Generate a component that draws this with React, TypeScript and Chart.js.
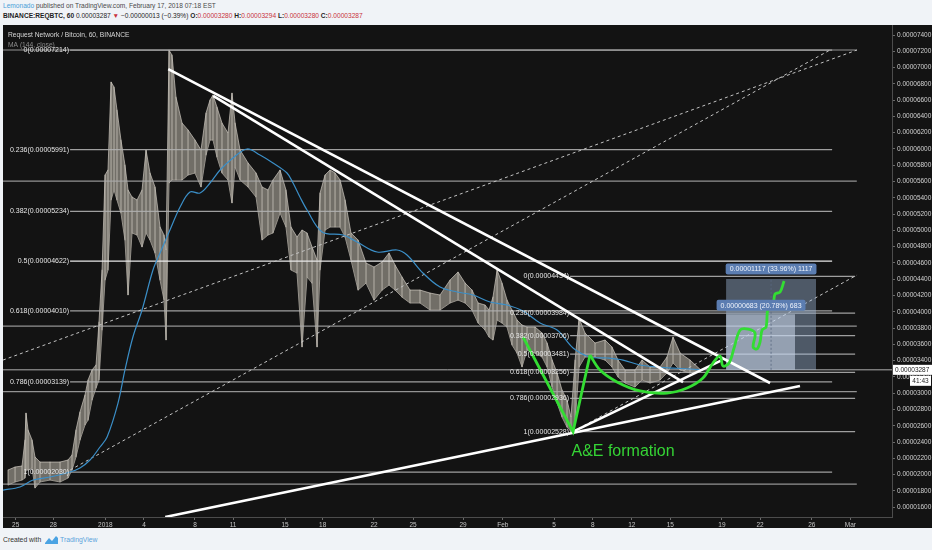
import React, { useEffect, useRef } from "react";
import { Chart, registerables } from "chart.js";

Chart.register(...registerables);

// x: days counted from 25 Dec 2017 along the bar axis, y: price in satoshi (1e-8 BTC)
const xTickDays = [0, 2.93, 6.97, 9.98, 13.95, 16.91, 20.96, 23.89, 27.88, 30.92, 34.81, 37.9, 41.89, 44.9, 47.94, 50.94, 54.96, 57.92, 61.95, 64.95];
const xTickLabels = ["25", "28", "2018", "4", "8", "11", "15", "18", "22", "25", "29", "Feb", "5", "8", "12", "15", "19", "22", "26", "Mar"];
const yTickValues = [1600, 1800, 2000, 2200, 2400, 2600, 2800, 3000, 3200, 3400, 3600, 3800, 4000, 4200, 4400, 4600, 4800, 5000, 5200, 5400, 5600, 5800, 6000, 6200, 6400, 6600, 6800, 7000, 7200, 7400];
const xRange = [-0.99, 68.19];
const yRange = [1479, 7523];

const priceDays = [
  -0.6, -0.05, 0.49, 0.72, 0.8, 0.96, 1.27, 1.5, 1.89, 2.67,
  3.45, 4.07, 4.38, 4.69, 5.0, 5.39, 5.63, 5.94, 6.25, 6.48,
  6.72, 6.95, 7.18, 7.42, 7.65, 7.88, 8.19, 8.5, 8.74, 9.05,
  9.44, 9.83, 10.14, 10.45, 10.84, 11.23, 11.54, 11.7, 11.93, 12.16,
  12.47, 12.94, 13.41, 13.95, 14.42, 14.81, 15.12, 15.35, 15.66, 16.05,
  16.52, 16.83, 17.07, 17.46, 18.08, 18.7, 19.17, 19.63, 20.02, 20.57,
  21.03, 21.42, 21.89, 22.28, 22.67, 23.06, 23.45, 23.68, 24.07, 24.46,
  24.85, 25.24, 25.63, 26.09, 26.64, 27.26, 27.88, 28.51, 29.05, 29.52,
  30.06, 30.68, 31.46, 32.24, 33.02, 33.8, 34.42, 34.97, 35.51, 35.98,
  36.52, 36.83, 37.14, 37.46, 37.84, 38.23, 38.62, 39.01, 39.4, 39.79,
  40.41, 40.96, 41.35, 41.74, 42.13, 42.51, 42.9, 43.21, 43.53, 43.84,
  44.3, 45.08, 45.86, 46.4, 46.87, 47.42, 48.19, 48.74, 49.36, 50.14,
  50.68, 51.15, 51.7, 52.47, 53.25,
];
const priceHigh = [
  2056, 2093, 2105, 2425, 2756, 2547, 2425, 2216, 2154, 2154,
  2154, 2179, 2240, 2547, 2769, 2977, 3162, 3285, 3346, 3874,
  4513, 5680, 5742, 6823, 6761, 6479, 6110, 5803, 5496, 5410,
  5373, 5496, 5987, 5705, 5533, 5041, 4943, 4759, 7214, 7154,
  6638, 6319, 6233, 6110, 5987, 6442, 6602, 6663, 6515, 6319,
  6196, 6687, 6319, 5987, 5828, 5705, 5533, 5496, 5619, 5742,
  5496, 5041, 4918, 5004, 4968, 4796, 4636, 5459, 5680, 5742,
  5705, 5619, 5373, 4968, 4882, 4599, 4550, 4611, 4722, 4574,
  4427, 4267, 4267, 4230, 4206, 4390, 4488, 4353, 4267, 4108,
  4083, 4022, 4181, 4513, 4353, 4145, 4022, 3899, 3837, 3813,
  3813, 3739, 3616, 3407, 3248, 3039, 2916, 2707, 3407, 3923,
  3739, 3616, 3653, 3567, 3407, 3285, 3285, 3407, 3322, 3322,
  3444, 3690, 3493, 3407, 3294,
];
const priceLow = [
  1872, 1909, 1933, 1958, 2056, 2056, 2081, 1835, 1909, 1933,
  1909, 1958, 2056, 2216, 2425, 2609, 2670, 2916, 3064, 3162,
  3776, 4390, 4513, 5373, 5496, 5373, 5213, 4882, 4206, 4968,
  4943, 4796, 4968, 4882, 4722, 4390, 4145, 3653, 5582, 5619,
  5619, 5619, 5680, 5705, 5533, 5926, 6110, 6110, 5901, 5705,
  5619, 5336, 5778, 5619, 5533, 5410, 4882, 4943, 4968, 5213,
  5041, 4513, 4476, 3567, 4427, 4353, 3567, 4513, 5004, 5041,
  5041, 5041, 4918, 4636, 4267, 4353, 4144, 4267, 4329, 4267,
  4181, 4108, 4108, 4022, 4022, 4108, 4144, 4108, 4022, 3862,
  3776, 3690, 3653, 3899, 3862, 3813, 3592, 3493, 3322, 3530,
  3493, 3444, 3322, 3076, 2879, 2707, 2584, 2528, 2634, 3322,
  3444, 3444, 3407, 3322, 3199, 3125, 3076, 3162, 3125, 3162,
  3248, 3371, 3285, 3248, 3280,
];

const maDays = [
  -0.99, 0.33, 1.35, 2.67, 4.23, 5.0, 5.78, 6.56, 7.11, 7.96, 8.5, 9.12, 9.83, 10.68, 11.23,
  12.0, 12.79, 13.56, 14.34, 15.12, 15.9, 16.91, 18.0, 19.01, 20.02, 21.11, 21.58, 22.12, 22.67, 23.84,
  25.47, 26.56, 28.13, 29.67, 30.45, 31.69, 33.02, 34.35, 35.58, 36.91, 38.23, 39.48, 40.8, 42.13, 43.37,
  44.69, 46.02, 47.26, 48.58, 49.91, 51.15, 52.47, 53.48,
];
const maValues = [
  1810, 1847, 1933, 1970, 2032, 2081, 2179, 2339, 2462, 2879, 3285, 3690, 4022, 4513, 4722,
  5004, 5287, 5471, 5459, 5582, 5742, 5889, 6000, 5926, 5828, 5705, 5582, 5410, 5250, 4980,
  4943, 4857, 4734, 4759, 4697, 4476, 4304, 4243, 4206, 4120, 4083, 4009, 3862, 3776, 3555,
  3444, 3432, 3407, 3346, 3322, 3309, 3297, 3285,
];

const fib1Levels = ["0", "0.236", "0.382", "0.5", "0.618", "0.786", "1"];
const fib1Prices = [7214, 5991, 5234, 4622, 4010, 3139, 2030];
const fib1Span = [4.23, 63.53];
const fib2Levels = ["0", "0.236", "0.382", "0.5", "0.618", "0.786", "1"];
const fib2Prices = [4434, 3984, 3706, 3481, 3256, 2936, 2528];
const fib2Span = [43.14, 65.32];
const plainLevels = [7216, 5606, 3825, 3020, 1884];
const plainSpan = [-0.99, 65.45];
const lastPrice = 3287;

const trendUpper = [[11.87, 6982], [58.7, 3125]];
const trendInner = [[15.37, 6651], [51.93, 3137]];
const supportLong = [[11.63, 1479], [61.03, 3088]];
const supportRising = [[43.37, 2528], [54.96, 3407]];
const dashedA = [[-0.99, 3407], [65.47, 7216]];
const dashedB = [[4.23, 2056], [63.37, 7216]];
const dashedC = [[43.37, 2528], [65.47, 4452]];

const measureDays = [55.28, 60.65, 62.28];
const measureTops = [4404, 3970];
const measureTexts = ["0.00001117 (33.96%) 1117", "0.00000683 (20.78%) 683"];

const greenVDays = [39.48, 43.37, 44.69];
const greenVValues = [3690, 2528, 3469];
const greenCurveDays = [44.69, 45.47, 46.79, 48.58, 50.68, 52.24, 53.48, 54.26, 54.81, 55.04, 55.51, 55.9, 56.37, 56.99, 57.53, 57.38, 57.69, 57.92, 58.08, 58.39, 58.54, 58.93, 59.09, 59.48, 59.79];
const greenCurveValues = [3469, 3284, 3138, 3027, 3002, 3064, 3187, 3371, 3457, 3334, 3371, 3555, 3776, 3788, 3739, 3567, 3543, 3628, 3776, 3813, 4034, 4083, 4218, 4243, 4378];

const FONT = '"Liberation Sans", Arial, sans-serif';
const fmt = (v: number) => (v / 1e8).toFixed(8);

const pts = (list: number[][]) => list.map((p) => ({ x: p[0], y: p[1] }));

function seg(list: number[][], color: string, width: number, order: number, dash: number[] = []) {
  return {
    type: "line",
    data: pts(list),
    borderColor: color,
    borderWidth: width,
    borderDash: dash,
    pointRadius: 0,
    fill: false,
    tension: 0,
    order,
  };
}

const overlay = {
  id: "overlay",
  afterDatasetsDraw(chart: any) {
    const { ctx, chartArea: a, scales } = chart;
    const px = (d: number) => scales.x.getPixelForValue(d);
    const py = (v: number) => scales.y.getPixelForValue(v);
    ctx.save();
    ctx.beginPath();
    ctx.rect(a.left, a.top, a.right - a.left, a.bottom - a.top);
    ctx.clip();
    ctx.textBaseline = "middle";
    ctx.textAlign = "left";
    ctx.font = `6.7px ${FONT}`;
    ctx.fillStyle = "#d6d6d6";
    ctx.fillText("Request Network / Bitcoin, 60, BINANCE", a.left + 5, a.top + 10);
    ctx.fillStyle = "#8c8c8c";
    ctx.fillText("MA (144, close)", a.left + 5, a.top + 20);

    ctx.font = `7px ${FONT}`;
    ctx.textAlign = "right";
    ctx.fillStyle = "#e6e6e6";
    fib1Levels.forEach((lv, i) => {
      ctx.fillText(`${lv}(${fmt(fib1Prices[i])})`, px(fib1Span[0]) - 1, py(fib1Prices[i]));
    });
    fib2Levels.forEach((lv, i) => {
      ctx.fillText(`${lv}(${fmt(fib2Prices[i])})`, px(fib2Span[0]) - 1, py(fib2Prices[i]));
    });

    ctx.textAlign = "center";
    const boxes = [
      { t: measureTexts[0], cx: px(58.78), cy: py(measureTops[0]) - 10 },
      { t: measureTexts[1], cx: px(58.0), cy: py(measureTops[1]) - 9 },
    ];
    boxes.forEach((b) => {
      const w = ctx.measureText(b.t).width + 8;
      ctx.fillStyle = "#5b7db1";
      ctx.beginPath();
      if (ctx.roundRect) ctx.roundRect(b.cx - w / 2, b.cy - 5.5, w, 11, 2);
      else ctx.rect(b.cx - w / 2, b.cy - 5.5, w, 11);
      ctx.fill();
      ctx.fillStyle = "#eef3fb";
      ctx.fillText(b.t, b.cx, b.cy + 0.5);
    });

    ctx.font = `16px ${FONT}`;
    ctx.fillStyle = "#35d435";
    ctx.fillText("A&E formation", px(47.26), py(2277));
    ctx.restore();
  },
  afterDraw(chart: any) {
    const { ctx, chartArea: a, scales, width } = chart;
    const y = scales.y.getPixelForValue(lastPrice);
    ctx.save();
    ctx.fillStyle = "#ffffff";
    ctx.fillRect(a.right + 1, y - 5, width - a.right - 1, 10);
    ctx.fillStyle = "#1c1c1c";
    ctx.font = `6.5px ${FONT}`;
    ctx.textBaseline = "middle";
    ctx.textAlign = "left";
    ctx.fillText(fmt(lastPrice), a.right + 3, y);
    ctx.fillStyle = "#ffffff";
    ctx.fillRect(width - 22, y + 6, 21, 10);
    ctx.fillStyle = "#1c1c1c";
    ctx.textAlign = "center";
    ctx.fillText("41:43", width - 11.5, y + 11);
    ctx.restore();
  },
};

export default function App() {
  const ref = useRef<HTMLCanvasElement>(null);

  useEffect(() => {
    if (!ref.current) return;
    const datasets: any[] = [];

    datasets.push({
      type: "line",
      data: priceDays.map((d, i) => ({ x: d, y: priceHigh[i] })),
      borderColor: "rgba(210,205,196,0.85)",
      borderWidth: 0.8,
      backgroundColor: "rgba(150,145,136,0.72)",
      fill: "+1",
      pointRadius: 0,
      tension: 0,
      order: 30,
    });
    datasets.push({
      type: "line",
      data: priceDays.map((d, i) => ({ x: d, y: priceLow[i] })),
      borderColor: "rgba(210,205,196,0.85)",
      borderWidth: 0.8,
      fill: false,
      pointRadius: 0,
      tension: 0,
      order: 30,
    });
    datasets.push({
      type: "bar",
      data: priceDays.map((d, i) => ({ x: d, y: [priceLow[i], priceHigh[i]] })),
      backgroundColor: "rgba(220,215,205,0.4)",
      borderWidth: 0,
      barThickness: 1,
      grouped: false,
      order: 29,
    });
    datasets.push({
      type: "line",
      data: maDays.map((d, i) => ({ x: d, y: maValues[i] })),
      borderColor: "#3b8fc8",
      borderWidth: 1.2,
      fill: false,
      pointRadius: 0,
      tension: 0.35,
      order: 25,
    });

    plainLevels.forEach((v) => datasets.push(seg([[plainSpan[0], v], [plainSpan[1], v]], "rgba(170,170,170,0.85)", 1.2, 28)));
    fib1Prices.forEach((v, i) =>
      datasets.push(seg([[fib1Span[0], v], [fib1Span[1], v]], fib1Levels[i] === "0.5" ? "#e8e8e8" : "rgba(175,175,175,0.9)", 1.2, 28))
    );
    fib2Prices.forEach((v) => datasets.push(seg([[fib2Span[0], v], [fib2Span[1], v]], "rgba(175,175,175,0.9)", 1.2, 28)));
    datasets.push(seg([[xRange[0], lastPrice], [xRange[1], lastPrice]], "rgba(190,190,190,0.9)", 1, 27));

    datasets.push(seg(dashedA, "#c4c4c4", 1, 26, [3, 3]));
    datasets.push(seg(dashedB, "#c4c4c4", 1, 26, [3, 3]));
    datasets.push(seg(dashedC, "#c4c4c4", 1, 26, [3, 3]));

    datasets.push({
      type: "line",
      data: pts([[measureDays[0], measureTops[0]], [measureDays[2], measureTops[0]]]),
      borderWidth: 0,
      pointRadius: 0,
      backgroundColor: "rgba(168,195,230,0.40)",
      fill: { value: lastPrice },
      order: 20,
    });
    datasets.push({
      type: "line",
      data: pts([[measureDays[0], measureTops[1]], [measureDays[1], measureTops[1]]]),
      borderWidth: 0,
      pointRadius: 0,
      backgroundColor: "rgba(205,218,238,0.55)",
      fill: { value: lastPrice },
      order: 19,
    });
    datasets.push(seg([[58.78, lastPrice], [58.78, measureTops[0]]], "rgba(90,105,130,0.8)", 1, 18, [2, 2]));

    datasets.push(seg(trendUpper, "#ffffff", 2.6, 5));
    datasets.push(seg(trendInner, "#ffffff", 2.6, 5));
    datasets.push(seg(supportLong, "#ffffff", 2.6, 5));
    datasets.push(seg(supportRising, "#ffffff", 2.6, 5));

    datasets.push(seg(greenVDays.map((d, i) => [d, greenVValues[i]]), "#33dd33", 2.8, 2));
    datasets.push({
      ...seg(greenCurveDays.map((d, i) => [d, greenCurveValues[i]]), "#33dd33", 2.8, 2),
      tension: 0.35,
    });

    const chart = new Chart(ref.current, {
      type: "line",
      data: { datasets },
      options: {
        animation: false,
        responsive: false,
        maintainAspectRatio: false,
        devicePixelRatio: 1,
        events: [],
        layout: { padding: 0 },
        plugins: { legend: { display: false }, tooltip: { enabled: false }, title: { display: false } },
        scales: {
          x: {
            type: "linear",
            min: xRange[0],
            max: xRange[1],
            offset: false,
            afterBuildTicks(s: any) {
              s.ticks = xTickDays.map((v) => ({ value: v }));
            },
            afterFit(s: any) {
              s.height = 11;
              s.paddingLeft = 0;
              s.paddingRight = 0;
            },
            ticks: {
              autoSkip: false,
              maxRotation: 0,
              padding: 1,
              color: "#c4c4c4",
              font: { size: 6.5, family: FONT },
              callback: (_v: any, i: number) => xTickLabels[i],
            },
            grid: { drawOnChartArea: false, tickLength: 3, color: "#6a6a6a", offset: false },
            border: { color: "#4c4c4c" },
          },
          y: {
            type: "linear",
            position: "right",
            min: yRange[0],
            max: yRange[1],
            afterBuildTicks(s: any) {
              s.ticks = yTickValues.map((v) => ({ value: v }));
            },
            afterFit(s: any) {
              s.width = 40;
              s.paddingTop = 0;
              s.paddingBottom = 0;
            },
            ticks: {
              autoSkip: false,
              padding: 2,
              color: "#d0d0d0",
              font: { size: 6.5, family: FONT },
              callback: (v: any) => fmt(Number(v)),
            },
            grid: { drawOnChartArea: false, tickLength: 3, color: "#6a6a6a" },
            border: { color: "#4c4c4c" },
          },
        },
      } as any,
      plugins: [overlay],
    } as any);

    return () => chart.destroy();
  }, []);

  const red = { color: "#c8323c" };
  const small = { fontSize: 6.6, lineHeight: "10px", whiteSpace: "nowrap" as const };
  return (
    <div
      style={{
        position: "absolute",
        left: 0,
        top: 0,
        width: 932,
        height: 550,
        background: "#f0f3f7",
        overflow: "hidden",
        fontFamily: FONT,
      }}
    >
      <div style={{ position: "absolute", left: 3, top: 1, color: "#4a4a4a", ...small }}>
        <span style={{ color: "#4a9fd8" }}>Lemonado</span> published on TradingView.com, February 17, 2018 07:18 EST
      </div>
      <div style={{ position: "absolute", left: 3, top: 11, color: "#1e1e1e", ...small }}>
        <b>BINANCE:REQBTC, 60</b> 0.00003287 <span style={red}>▼</span> −0.00000013 (−0.39%) <b>O:</b>
        <span style={red}>0.00003280</span> <b>H:</b>
        <span style={red}>0.00003294</span> <b>L:</b>
        <span style={red}>0.00003280</span> <b>C:</b>
        <span style={red}>0.00003287</span>
      </div>
      <div style={{ position: "absolute", left: 3, top: 25, width: 929, height: 503, background: "#131313" }}>
        <canvas ref={ref} width={929} height={503} style={{ display: "block", width: 929, height: 503 }} />
      </div>
      <div style={{ position: "absolute", left: 3, top: 535, color: "#333", ...small, fontSize: 6.8 }}>
        Created with
      </div>
      <svg style={{ position: "absolute", left: 45, top: 535 }} width="13" height="9" viewBox="0 0 13 9">
        <path d="M0 8 L4 3 L7 6 L11 1 L13 3 L13 9 L0 9 Z" fill="#4ba3e3" />
      </svg>
      <div style={{ position: "absolute", left: 60, top: 535, color: "#5ba3dc", ...small, fontSize: 6.8 }}>
        TradingView
      </div>
    </div>
  );
}
